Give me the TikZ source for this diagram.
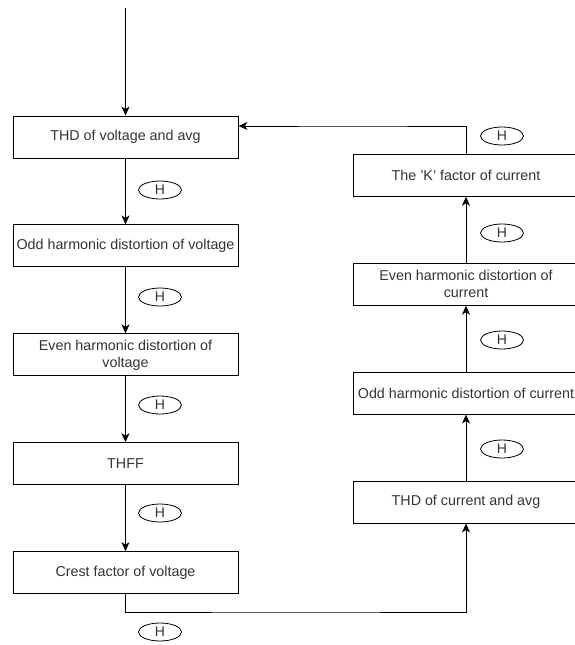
\documentclass[tikz,border=0pt]{standalone}
\usepackage{fontspec}
\setmainfont{Liberation Sans}
\usetikzlibrary{arrows.meta,positioning,shapes.geometric}
\definecolor{textgray}{HTML}{333333}

\begin{document}
\begin{tikzpicture}[x=1pt,y=-1pt,>={Stealth[length=9pt,width=8pt,inset=2.5pt]},line width=0.9pt,
  stage/.style={draw,rectangle,minimum width=225pt,minimum height=42pt,inner sep=2pt,align=center,
    text=textgray,font=\fontsize{14.3}{17}\selectfont},
  hmark/.style={draw,ellipse,line width=0.8pt,minimum width=43pt,minimum height=18pt,inner sep=0pt,
    text=textgray,font=\fontsize{14}{16}\selectfont}]
  \useasboundingbox (0,0) rectangle (574,645);
  \coordinate (start) at (125.5,8);
  \node[stage] (thdv) at (125.5,137) {THD of voltage and avg};
  \node[stage,below=66pt of thdv] (oddv) {Odd harmonic distortion of voltage};
  \node[stage,below=66pt of oddv] (evenv) {Even harmonic distortion of\\voltage};
  \node[stage,below=66pt of evenv] (thff) {THFF};
  \node[stage,below=66pt of thff] (crest) {Crest factor of voltage};
  \node[stage] (thdc) at (466,502) {THD of current and avg};
  \node[stage,above=66pt of thdc] (oddc) {Odd harmonic distortion of current};
  \node[stage,above=66pt of oddc] (evenc) {Even harmonic distortion of\\current};
  \node[stage,above=66pt of evenc] (kcur) {The 'K' factor of current};
  \node[hmark] (h1) at (160,190) {H};
  \node[hmark] (h2) at (160,297) {H};
  \node[hmark] (h3) at (160,405) {H};
  \node[hmark] (h4) at (160,513) {H};
  \node[hmark] (h5) at (160,632) {H};
  \node[hmark] (h6) at (502,449) {H};
  \node[hmark] (h7) at (502,340) {H};
  \node[hmark] (h8) at (502,233) {H};
  \node[hmark] (h9) at (502,136) {H};
  \coordinate (low) at (296,612);
  \coordinate (high) at (350,126);
  \draw[->] (start) -- (thdv);
  \draw[->] (thdv) -- (oddv);
  \draw[->] (oddv) -- (evenv);
  \draw[->] (evenv) -- (thff);
  \draw[->] (thff) -- (crest);
  \draw[->] (crest) |- (low) -| (thdc);
  \draw[->] (thdc) -- (oddc);
  \draw[->] (oddc) -- (evenc);
  \draw[->] (evenc) -- (kcur);
  \draw[->] (kcur) |- (high) -- (thdv.east |- high);
\end{tikzpicture}
\end{document}
